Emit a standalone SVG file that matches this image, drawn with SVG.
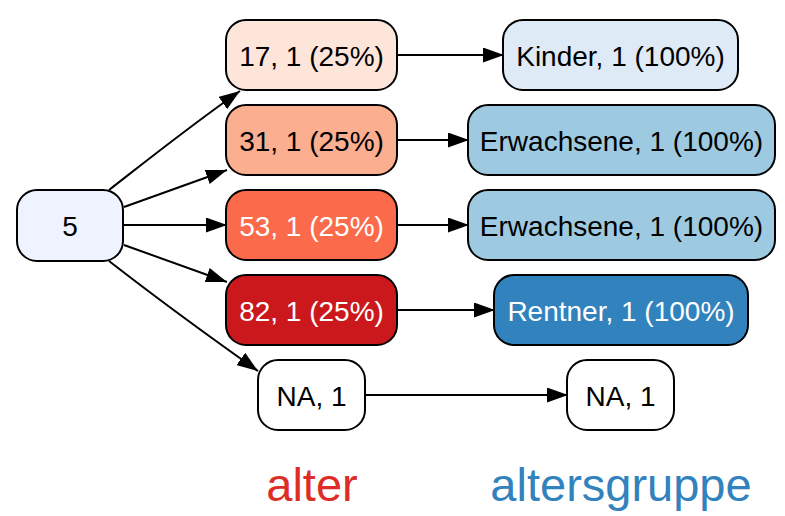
<svg xmlns="http://www.w3.org/2000/svg" width="785" height="516" viewBox="0 0 785 516">
<defs>
<style>
.n{stroke:#000;stroke-width:2}
.t{font-family:"Liberation Sans",Arial,sans-serif;font-size:28px;text-anchor:middle}
.e{fill:none;stroke:#000;stroke-width:2}
.lbl{font-family:"Liberation Sans",Arial,sans-serif;font-size:47px;text-anchor:middle}
</style>
<marker id="ah" markerUnits="userSpaceOnUse" markerWidth="21" markerHeight="15" refX="21" refY="7.5" orient="auto" viewBox="0 0 21 15">
<path d="M0,0 L21,7.5 L0,15 z" fill="#000"/>
</marker>
</defs>
<rect width="785" height="516" fill="#fff"/>
<g id="connectors">
<path class="e" marker-end="url(#ah)" d="M109,190 C145,162 190,126 240,91"/>
<path class="e" marker-end="url(#ah)" d="M124,207 C155,196 190,183 227,170"/>
<path class="e" marker-end="url(#ah)" d="M124,225 L227,225"/>
<path class="e" marker-end="url(#ah)" d="M124,245 C155,256 190,269 227,282"/>
<path class="e" marker-end="url(#ah)" d="M109,261 C145,289 200,330 258,371"/>
<path class="e" marker-end="url(#ah)" d="M397,55 L504,55"/>
<path class="e" marker-end="url(#ah)" d="M397,140 L469,140"/>
<path class="e" marker-end="url(#ah)" d="M397,225 L469,225"/>
<path class="e" marker-end="url(#ah)" d="M397,310 L495,310"/>
<path class="e" marker-end="url(#ah)" d="M365,395 L568,395"/>
</g>
<g id="root"><rect class="n" x="17" y="190" width="106" height="71" rx="20" fill="#eff3ff"/><text class="t" x="70" y="235.5">5</text></g>
<g id="alter17"><rect class="n" x="226" y="20" width="171" height="70" rx="20" fill="#fee5d9"/><text class="t" x="311.5" y="65.5">17, 1 (25%)</text></g>
<g id="alter31"><rect class="n" x="226" y="105" width="171" height="70" rx="20" fill="#fcae91"/><text class="t" x="311.5" y="150.5">31, 1 (25%)</text></g>
<g id="alter53"><rect class="n" x="226" y="190" width="171" height="70" rx="20" fill="#fb6a4a"/><text class="t" x="311.5" y="235.5" fill="#fff">53, 1 (25%)</text></g>
<g id="alter82"><rect class="n" x="226" y="275" width="171" height="70" rx="20" fill="#cb181d"/><text class="t" x="311.5" y="320.5" fill="#fff">82, 1 (25%)</text></g>
<g id="alterNA"><rect class="n" x="258" y="360" width="107" height="70" rx="20" fill="#fff"/><text class="t" x="311.5" y="405.5">NA, 1</text></g>
<g id="gKinder"><rect class="n" x="503" y="20" width="235" height="70" rx="20" fill="#deebf7"/><text class="t" x="620.5" y="65.5">Kinder, 1 (100%)</text></g>
<g id="gErw1"><rect class="n" x="468" y="105" width="307" height="70" rx="20" fill="#9ecae1"/><text class="t" x="621.5" y="150.5">Erwachsene, 1 (100%)</text></g>
<g id="gErw2"><rect class="n" x="468" y="190" width="307" height="70" rx="20" fill="#9ecae1"/><text class="t" x="621.5" y="235.5">Erwachsene, 1 (100%)</text></g>
<g id="gRentner"><rect class="n" x="494" y="275" width="254" height="70" rx="20" fill="#3182bd"/><text class="t" x="621" y="320.5" fill="#fff">Rentner, 1 (100%)</text></g>
<g id="gNA"><rect class="n" x="567" y="360" width="107" height="70" rx="20" fill="#fff"/><text class="t" x="620.5" y="405.5">NA, 1</text></g>
<g id="labels">
<text class="lbl" x="312" y="501" fill="#de2d26">alter</text>
<text class="lbl" x="621" y="501" fill="#3182bd">altersgruppe</text>
</g>
</svg>
